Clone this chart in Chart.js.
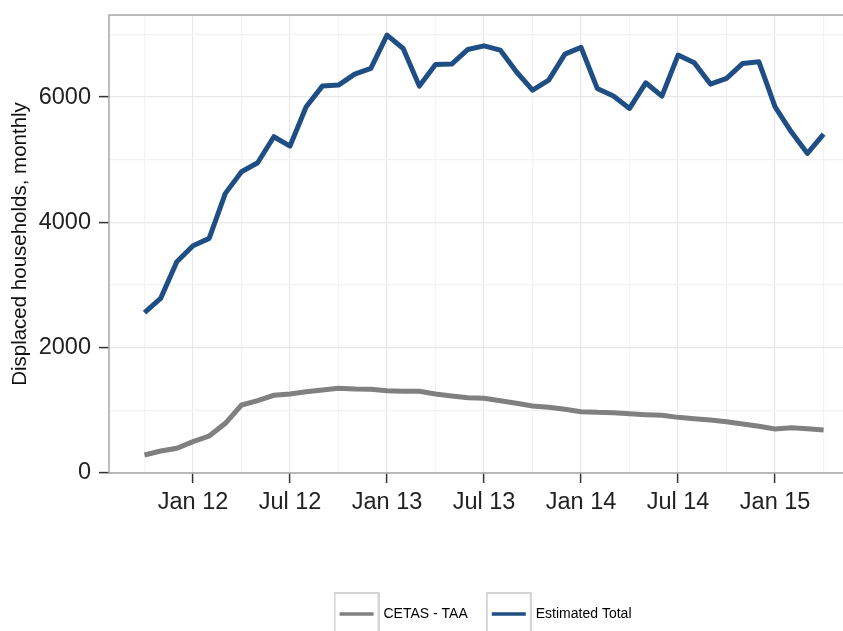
<!DOCTYPE html>
<html>
<head>
<meta charset="utf-8">
<script src="https://cdn.jsdelivr.net/npm/chart.js@4"></script>
<style>
  html, body { margin: 0; padding: 0; background: #fff; overflow: hidden; }
</style>
</head>
<body>
<canvas id="chart" width="843" height="631"></canvas>
<script>
// monthly categories, Oct 2011 .. Apr 2015
const months = ['Oct 11', 'Nov 11', 'Dec 11',
    'Jan 12', 'Feb 12', 'Mar 12', 'Apr 12', 'May 12', 'Jun 12', 'Jul 12', 'Aug 12', 'Sep 12', 'Oct 12', 'Nov 12', 'Dec 12',
    'Jan 13', 'Feb 13', 'Mar 13', 'Apr 13', 'May 13', 'Jun 13', 'Jul 13', 'Aug 13', 'Sep 13', 'Oct 13', 'Nov 13', 'Dec 13',
    'Jan 14', 'Feb 14', 'Mar 14', 'Apr 14', 'May 14', 'Jun 14', 'Jul 14', 'Aug 14', 'Sep 14', 'Oct 14', 'Nov 14', 'Dec 14',
    'Jan 15', 'Feb 15', 'Mar 15', 'Apr 15'];

const cetasTaa = [287, 351, 394, 500, 590, 793, 1085, 1154, 1240, 1261, 1298, 1324, 1351, 1340, 1335,
    1313, 1303, 1303, 1261, 1229, 1200, 1192, 1154, 1112, 1069, 1048, 1016,
    979, 968, 963, 947, 931, 920, 888, 867, 846, 819, 782, 745,
    702, 724, 708, 686];

const estimatedTotal = [2558, 2787, 3372, 3627, 3745, 4463, 4808, 4952, 5367, 5218, 5845, 6175, 6191, 6367, 6458,
    6989, 6776, 6175, 6521, 6526, 6760, 6818, 6750, 6404, 6111, 6271, 6686,
    6793, 6138, 6016, 5819, 6228, 6016, 6670, 6547, 6207, 6298, 6537, 6563,
    5845, 5446, 5101, 5409];

// x ticks (month index into months[])
const xTickLabels = ['Jan 12', 'Jul 12', 'Jan 13', 'Jul 13', 'Jan 14', 'Jul 14', 'Jan 15'];
const xMinorLabels = ['Oct 11', 'Apr 12', 'Oct 12', 'Apr 13', 'Oct 13', 'Apr 14', 'Oct 14', 'Apr 15'];

const yTickValues = [0, 2000, 4000, 6000];
const yMinorValues = [1000, 3000, 5000, 7000];

const xMajor = xTickLabels.map(m => months.indexOf(m));
const xMinor = xMinorLabels.map(m => months.indexOf(m));

const FONT = "'Liberation Sans', Arial, sans-serif";
const frameColor = '#a6a6a6';

// small key images for the ggplot-like legend
function keyImage(color) {
    const c = document.createElement('canvas');
    c.width = 46; c.height = 44;
    const g = c.getContext('2d');
    g.fillStyle = '#fff';
    g.fillRect(0, 0, 46, 44);
    g.strokeStyle = '#c8c8c8';
    g.lineWidth = 1.5;
    g.strokeRect(1, 1, 44, 42);
    g.strokeStyle = color;
    g.lineWidth = 3.5;
    g.beginPath();
    g.moveTo(6, 22);
    g.lineTo(40, 22);
    g.stroke();
    return c;
}

const framePlugin = {
    id: 'frame',
    afterDatasetsDraw(chart) {
        const a = chart.chartArea, g = chart.ctx;
        g.save();
        g.strokeStyle = frameColor;
        g.lineWidth = 1.5;
        g.beginPath();
        g.moveTo(chart.width, a.top);
        g.lineTo(a.left, a.top);
        g.lineTo(a.left, a.bottom);
        g.lineTo(chart.width, a.bottom);
        g.stroke();
        g.restore();
    }
};

// centre the legend under the panel, as ggplot does
const legendShift = {
    id: 'legendShift',
    afterLayout(chart) {
        chart.legend.left = 125;
    }
};

const ctx = document.getElementById('chart').getContext('2d');
const colors = ['#808080', '#1f4e85'];

new Chart(ctx, {
    type: 'line',
    data: {
        datasets: [{
            label: 'CETAS - TAA',
            data: cetasTaa.map((v, i) => ({ x: i, y: v })),
            borderColor: colors[0],
            borderWidth: 5,
            pointRadius: 0,
            tension: 0,
            fill: false
        }, {
            label: 'Estimated Total',
            data: estimatedTotal.map((v, i) => ({ x: i, y: v })),
            borderColor: colors[1],
            borderWidth: 5,
            pointRadius: 0,
            tension: 0,
            borderJoinStyle: 'round',
            fill: false
        }]
    },
    options: {
        responsive: false,
        animation: false,
        devicePixelRatio: 1,
        layout: { padding: { top: 15, left: 0, right: 0, bottom: 0 } },
        plugins: {
            tooltip: { enabled: false },
            legend: {
                position: 'bottom',
                labels: {
                    usePointStyle: true,
                    pointStyleWidth: 40,
                    padding: 21,
                    color: '#222',
                    font: { family: FONT, size: 14 },
                    generateLabels: (chart) => chart.data.datasets.map((d, i) => ({
                        text: d.label,
                        pointStyle: keyImage(colors[i]),
                        fillStyle: colors[i],
                        strokeStyle: colors[i],
                        lineWidth: 0,
                        hidden: false,
                        datasetIndex: i
                    }))
                }
            }
        },
        scales: {
            x: {
                type: 'linear',
                min: -2.195,
                max: 43.2,
                afterBuildTicks: (s) => {
                    s.ticks = xMajor.concat(xMinor).sort((a, b) => a - b).map(v => ({ value: v }));
                },
                afterFit: (s) => { s.height = 113; s.paddingRight = 0; s.paddingLeft = 0; },
                border: { display: false },
                grid: {
                    color: (c) => xMajor.includes(c.tick && c.tick.value) ? '#e8e8e8' : '#f3f3f3',
                    lineWidth: 1.2,
                    drawTicks: true,
                    tickLength: 10,
                    tickWidth: 1.5,
                    tickColor: (c) => xMajor.includes(c.tick && c.tick.value) ? '#333' : 'rgba(0,0,0,0)'
                },
                ticks: {
                    autoSkip: false,
                    maxRotation: 0,
                    padding: 5,
                    color: '#222',
                    font: { family: FONT, size: 23.5 },
                    callback: (v) => {
                        const i = xMajor.indexOf(v);
                        return i >= 0 ? xTickLabels[i] : '';
                    }
                }
            },
            y: {
                min: 0,
                max: 7310,
                afterBuildTicks: (s) => {
                    s.ticks = yTickValues.concat(yMinorValues).sort((a, b) => a - b).map(v => ({ value: v }));
                },
                afterFit: (s) => { s.width = 109; s.paddingTop = 0; s.paddingBottom = 0; },
                border: { display: false },
                grid: {
                    color: (c) => yTickValues.includes(c.tick && c.tick.value) ? '#e8e8e8' : '#f3f3f3',
                    lineWidth: 1.2,
                    drawTicks: true,
                    tickLength: 10,
                    tickWidth: 1.5,
                    tickColor: (c) => yTickValues.includes(c.tick && c.tick.value) ? '#333' : 'rgba(0,0,0,0)'
                },
                ticks: {
                    padding: 8,
                    color: '#222',
                    font: { family: FONT, size: 23.5 },
                    callback: (v) => yTickValues.includes(v) ? String(v) : ''
                },
                title: {
                    display: true,
                    text: 'Displaced households, monthly',
                    color: '#111',
                    font: { family: FONT, size: 20.5 },
                    padding: { top: 8, bottom: 0 }
                }
            }
        }
    },
    plugins: [framePlugin, legendShift]
});
</script>
</body>
</html>
